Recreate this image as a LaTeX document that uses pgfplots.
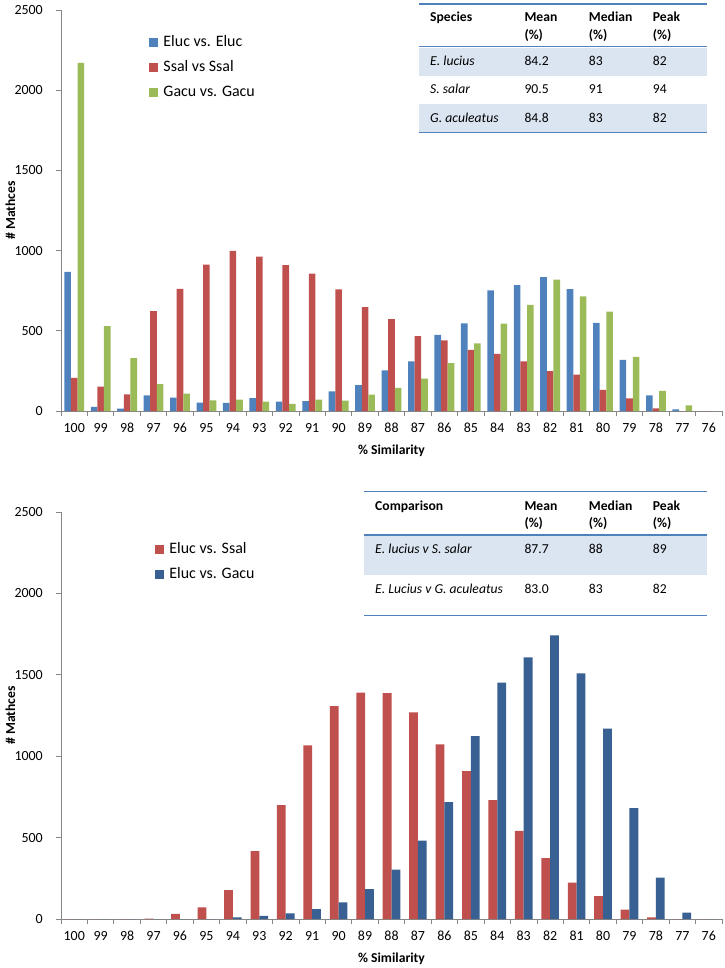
\documentclass[border=0pt]{standalone}
\usepackage{fontspec}
\setmainfont{Carlito}
\usepackage{pgfplots}
\usepackage{pgfplotstable}
\pgfplotsset{compat=1.18}

\definecolor{cblue}{RGB}{79,129,189}
\definecolor{cred}{RGB}{192,80,77}
\definecolor{cgreen}{RGB}{155,187,89}
\definecolor{cdblue}{RGB}{56,96,146}
\definecolor{axgray}{RGB}{134,134,134}
\definecolor{tline}{RGB}{79,129,189}
\definecolor{tshade}{RGB}{219,229,241}

% within-species matches per % similarity bin (idx 0 = 100%)
\pgfplotstableread{
idx sim eluc ssal gacu
0 100 867 206 2170
1 99 25 152 529
2 98 15 104 329
3 97 98 623 167
4 96 83 762 108
5 95 52 912 67
6 94 50 998 71
7 93 81 962 58
8 92 58 910 44
9 91 62 856 71
10 90 123 758 65
11 89 162 648 102
12 88 254 573 144
13 87 310 467 202
14 86 475 440 298
15 85 546 381 421
16 84 752 356 544
17 83 785 310 662
18 82 835 248 819
19 81 760 227 715
20 80 550 131 619
21 79 319 79 337
22 78 98 17 125
23 77 10 0 35
24 76 0 0 0
}\selfdata

% cross-species matches
\pgfplotstableread{
idx sim ssal gacu
0 100 0 0
1 99 0 0
2 98 0 0
3 97 3 0
4 96 31 0
5 95 72 0
6 94 178 10
7 93 417 20
8 92 699 35
9 91 1067 61
10 90 1307 102
11 89 1391 184
12 88 1387 303
13 87 1270 481
14 86 1072 718
15 85 908 1123
16 84 730 1452
17 83 542 1607
18 82 374 1742
19 81 223 1509
20 80 141 1170
21 79 57 681
22 78 10 254
23 77 0 39
24 76 0 0
}\crossdata

\pgfplotsset{
  simaxis/.style={
    scale only axis, width=661bp, anchor=south west,
    xmin=-0.5, xmax=24.5, ymin=0, ymax=2500, enlargelimits=false,
    axis x line=bottom, axis y line=left,
    axis line style={draw=axgray, line width=0.8bp, -},
    tick align=outside, major tick length=5bp,
    tick style={draw=axgray, line width=0.8bp},
    xtick={-0.5,0.5,...,24.5},
    xticklabels={100,99,98,97,96,95,94,93,92,91,90,89,88,87,86,85,84,83,82,81,80,79,78,77,76,{}},
    xticklabel style={anchor=base, xshift=13.22bp, yshift=-16bp},
    ytick={0,500,...,2500},
    yticklabel style={anchor=east, inner sep=0pt, xshift=-13bp},
    tick label style={font=\fontsize{14}{16}\selectfont},
    /pgf/number format/assume math mode=true,
    /pgf/number format/1000 sep={},
    xlabel={\textbf{\% Similarity}},
    ylabel={\textbf{\# Mathces}},
    label style={font=\fontsize{13.7}{16}\selectfont},
    xlabel style={at={(axis description cs:0.5,0)}, anchor=base, yshift=-43bp},
    ylabel style={at={(axis description cs:-0.0764,0.5)}, anchor=center},
    ybar,
    legend cell align=left,
    legend style={draw=none, fill=none, anchor=north west,
      font=\fontsize{16}{19}\selectfont,
      nodes={inner sep=0pt, text height=11bp, text depth=3bp},
      row sep=11bp},
  },
  sqleg/.style={legend image code/.code={
    \fill[##1, draw=none] (0bp,-4.5bp) rectangle (9bp,4.5bp);
    \path (14bp,0bp);}},
}
\tikzset{
  tx/.style={anchor=west, inner sep=0pt, text height=8.8bp, text depth=0pt,
    font=\fontsize{13.7}{16}\selectfont},
}

\begin{document}
\begin{tikzpicture}
\useasboundingbox (0,0) rectangle (725bp,-968bp);

% ---- top panel ----
\begin{axis}[simaxis, at={(61bp,-411bp)}, height=401bp,
  bar width=6.6bp,
  legend style={at={(axis description cs:0.129,0.943)}}]
\addplot[fill=cblue, draw=none, bar shift=-6.6bp, sqleg] table[x=idx,y=eluc]{\selfdata};
\addplot[fill=cred, draw=none, bar shift=0bp, sqleg] table[x=idx,y=ssal]{\selfdata};
\addplot[fill=cgreen, draw=none, bar shift=6.6bp, sqleg] table[x=idx,y=gacu]{\selfdata};
\legend{Eluc vs. Eluc, Ssal vs Ssal, Gacu vs. Gacu}
\end{axis}

% ---- bottom panel ----
\begin{axis}[simaxis, at={(61bp,-919bp)}, height=407bp,
  bar width=8.8bp,
  legend style={at={(axis description cs:0.138,0.931)}}]
\addplot[fill=cred, draw=none, bar shift=-4.4bp, sqleg] table[x=idx,y=ssal]{\crossdata};
\addplot[fill=cdblue, draw=none, bar shift=4.4bp, sqleg] table[x=idx,y=gacu]{\crossdata};
\legend{Eluc vs. Ssal, Eluc vs. Gacu}
\end{axis}

% ---- top table ----
\fill[tshade] (419bp,-47.5bp) rectangle (707bp,-75.5bp);
\fill[tshade] (419bp,-104.3bp) rectangle (707bp,-132.3bp);
\draw[tline, line width=1.5bp] (419bp,-4bp) -- (707bp,-4bp);
\draw[tline, line width=1.5bp] (419bp,-46.7bp) -- (707bp,-46.7bp);
\draw[tline, line width=1.5bp] (419bp,-132.3bp) -- (707bp,-132.3bp);
\node[tx] at (430bp,-17.3bp) {\textbf{Species}};
\node[tx] at (524.3bp,-17.3bp) {\textbf{Mean}};
\node[tx] at (524.3bp,-34.7bp) {\textbf{(\%)}};
\node[tx] at (588.7bp,-17.3bp) {\textbf{Median}};
\node[tx] at (588.7bp,-34.7bp) {\textbf{(\%)}};
\node[tx] at (652.7bp,-17.3bp) {\textbf{Peak}};
\node[tx] at (652.7bp,-34.7bp) {\textbf{(\%)}};
\node[tx] at (430bp,-61bp) {\textit{E. lucius}};
\node[tx] at (524.3bp,-61bp) {84.2};
\node[tx] at (588.7bp,-61bp) {83};
\node[tx] at (652.7bp,-61bp) {82};
\node[tx] at (430bp,-89.3bp) {\textit{S. salar}};
\node[tx] at (524.3bp,-89.3bp) {90.5};
\node[tx] at (588.7bp,-89.3bp) {91};
\node[tx] at (652.7bp,-89.3bp) {94};
\node[tx] at (430bp,-118bp) {\textit{G. aculeatus}};
\node[tx] at (524.3bp,-118bp) {84.8};
\node[tx] at (588.7bp,-118bp) {83};
\node[tx] at (652.7bp,-118bp) {82};

% ---- bottom table ----
\fill[tshade] (364bp,-535bp) rectangle (707bp,-575bp);
\draw[tline, line width=1.5bp] (364bp,-491.7bp) -- (707bp,-491.7bp);
\draw[tline, line width=1.5bp] (364bp,-535bp) -- (707bp,-535bp);
\draw[tline, line width=1.5bp] (364bp,-615.7bp) -- (707bp,-615.7bp);
\node[tx] at (375bp,-505.7bp) {\textbf{Comparison}};
\node[tx] at (524.3bp,-505.7bp) {\textbf{Mean}};
\node[tx] at (524.3bp,-522.7bp) {\textbf{(\%)}};
\node[tx] at (588.7bp,-505.7bp) {\textbf{Median}};
\node[tx] at (588.7bp,-522.7bp) {\textbf{(\%)}};
\node[tx] at (652.7bp,-505.7bp) {\textbf{Peak}};
\node[tx] at (652.7bp,-522.7bp) {\textbf{(\%)}};
\node[tx] at (375bp,-549bp) {\textit{E. lucius v S. salar}};
\node[tx] at (524.3bp,-549bp) {87.7};
\node[tx] at (588.7bp,-549bp) {88};
\node[tx] at (652.7bp,-549bp) {89};
\node[tx] at (375bp,-589.3bp) {\textit{E. Lucius v G. aculeatus}};
\node[tx] at (524.3bp,-589.3bp) {83.0};
\node[tx] at (588.7bp,-589.3bp) {83};
\node[tx] at (652.7bp,-589.3bp) {82};
\end{tikzpicture}
\end{document}
